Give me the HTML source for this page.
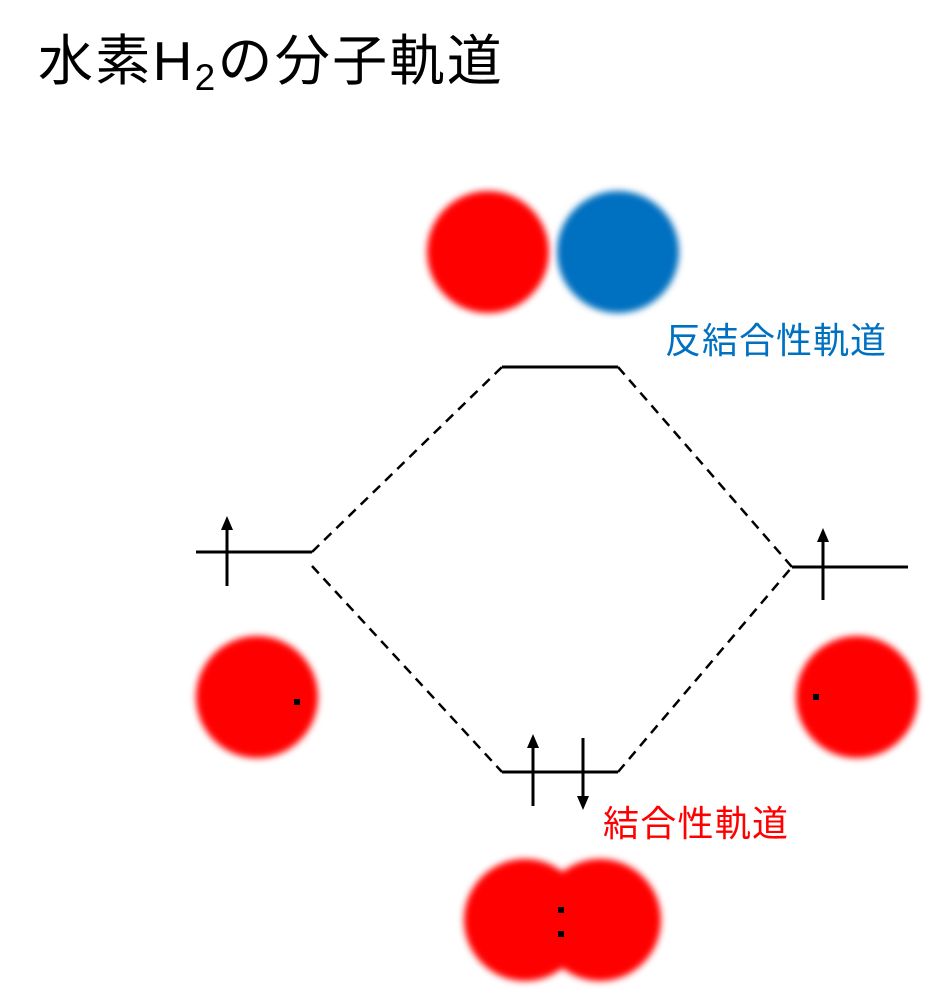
<!DOCTYPE html>
<html><head><meta charset="utf-8"><style>html,body{margin:0;padding:0;background:#fff}svg{display:block}</style></head>
<body>
<svg width="932" height="999" viewBox="0 0 932 999" xmlns="http://www.w3.org/2000/svg">
<defs><filter id="b" x="-30%" y="-30%" width="160%" height="160%"><feGaussianBlur stdDeviation="3.5"/></filter></defs>
<text x="38" y="80" font-family="Liberation Sans, Noto Sans CJK JP, sans-serif" font-size="55" letter-spacing="2.3" fill="#000">水素H<tspan font-size="37" dy="10">2</tspan><tspan dy="-10">の分子軌道</tspan></text>
<g filter="url(#b)">
<circle cx="488" cy="252" r="61" fill="#ff0000"/>
<circle cx="618" cy="252" r="61" fill="#0070c0"/>
<circle cx="257" cy="697" r="61" fill="#ff0000"/>
<circle cx="857" cy="697" r="61" fill="#ff0000"/>
<circle cx="525" cy="920" r="61" fill="#ff0000"/>
<circle cx="600" cy="920" r="61" fill="#ff0000"/>
</g>
<rect x="294" y="699" width="6" height="6" fill="#000"/>
<rect x="813" y="694" width="6" height="6" fill="#000"/>
<rect x="558" y="907" width="6" height="6" fill="#000"/>
<rect x="558" y="931" width="6" height="6" fill="#000"/>
<g stroke="#000" stroke-width="3" fill="none">
<line x1="196" y1="552" x2="312" y2="552"/>
<line x1="502" y1="367" x2="618" y2="367"/>
<line x1="502" y1="772" x2="618" y2="772"/>
<line x1="792" y1="567" x2="908" y2="567"/>
<line x1="227" y1="586" x2="227" y2="528"/>
<line x1="533" y1="806" x2="533" y2="746"/>
<line x1="583" y1="738" x2="583" y2="798"/>
<line x1="823" y1="600" x2="823" y2="540"/>
</g>
<g fill="#000">
<polygon points="221,530 233,530 227,516"/>
<polygon points="527,748 539,748 533,734"/>
<polygon points="577,796 589,796 583,810"/>
<polygon points="817,542 829,542 823,528"/>
</g>
<g stroke="#000" stroke-width="2.5" stroke-dasharray="10,7" fill="none">
<line x1="312" y1="552" x2="502" y2="367"/>
<line x1="312" y1="566" x2="502" y2="772"/>
<line x1="618" y1="367" x2="792" y2="567"/>
<line x1="618" y1="772" x2="792" y2="567"/>
</g>
<text x="665" y="353" font-family="Liberation Sans, Noto Sans CJK JP, sans-serif" font-size="36" fill="#0070c0" textLength="221">反結合性軌道</text>
<text x="603" y="836" font-family="Liberation Sans, Noto Sans CJK JP, sans-serif" font-size="36" fill="#ff0000" textLength="185">結合性軌道</text>
</svg>
</body></html>
